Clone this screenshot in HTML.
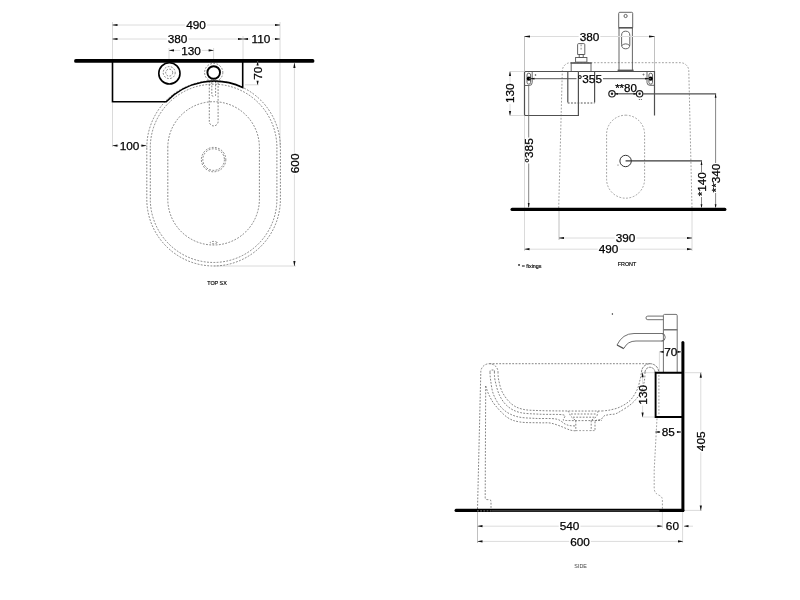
<!DOCTYPE html>
<html lang="en">
<head>
<meta charset="utf-8">
<title>Technical drawing</title>
<style>
html,body{margin:0;padding:0;background:#fff;}
body{width:800px;height:600px;overflow:hidden;}
svg{display:block;will-change:transform;}
text{font-family:"Liberation Sans",sans-serif;fill:#000;}
.n{font-size:11.8px;stroke:#000;stroke-width:0.25px;}
.s{font-size:5.4px;fill:#000;stroke:#000;stroke-width:0.15px;}
.s2{fill:#444;stroke:none;}
.k{fill:none;stroke:#000;stroke-width:1.6;}
.k2{fill:none;stroke:#000;stroke-width:1.2;}
.g{fill:none;stroke:#505050;stroke-width:1.2;}
.t{fill:none;stroke:#000;stroke-width:3.3;stroke-linecap:round;}
.d{fill:none;stroke:#505050;stroke-width:0.7;stroke-dasharray:1.8 1.45;}
.dl{fill:none;stroke:#888;stroke-width:0.8;stroke-dasharray:1.8 1.6;}
.f{fill:none;stroke:#696969;stroke-width:0.95;}
.dim{fill:none;stroke:#dcdcdc;stroke-width:1;}
.ext{fill:none;stroke:#d0d0d0;stroke-width:0.8;}
.ar{fill:#111;stroke:none;}
.g2{fill:none;stroke:#555;stroke-width:0.9;}
.g4{fill:none;stroke:#555;stroke-width:1;}
.g3{fill:none;stroke:#666;stroke-width:0.8;}
.ext2{fill:none;stroke:#b0b0b0;stroke-width:0.8;}
</style>
</head>
<body>
<svg width="800" height="600" viewBox="0 0 800 600">
<rect width="800" height="600" fill="#fff"/>
<g id="top-view">
<line class="ext" x1="112.5" y1="22" x2="112.5" y2="59"/>
<line class="ext" x1="280" y1="22" x2="280" y2="147"/>
<line class="ext" x1="243" y1="36" x2="243" y2="59"/>
<line class="ext" x1="169" y1="48" x2="169" y2="59"/>
<line class="ext" x1="213.6" y1="48" x2="213.6" y2="59"/>
<line class="ext" x1="112.5" y1="103" x2="112.5" y2="147"/>
<line class="ext" x1="245" y1="84.8" x2="259" y2="84.8"/>
<line class="ext" x1="213.6" y1="266" x2="296" y2="266"/>
<path class="d" d="M146.8,147.5 A66.8,66.8 0 0 1 280.4,147.5 V199.2 A66.8,66.8 0 0 1 146.8,199.2 Z"/>
<path class="d" d="M150.3,147.5 A63.3,63.3 0 0 1 276.9,147.5 V199.2 A63.3,63.3 0 0 1 150.3,199.2 Z"/>
<path class="d" d="M167.8,147.5 A45.8,45.8 0 0 1 259.4,147.5 V199.2 A45.8,45.8 0 0 1 167.8,199.2 Z"/>
<path class="d" d="M209.3,81 V121.5 A4.4,4.4 0 0 0 218.1,121.5 V81"/>
<path class="d" d="M211.8,79 V95 Q211.8,96.3 213.7,96.3 Q215.6,96.3 215.6,95 V79"/>
<circle class="d" cx="213.6" cy="159.6" r="12.2"/>
<circle class="d" cx="213.6" cy="159.6" r="10.8"/>
<ellipse class="d" cx="213.6" cy="242.6" rx="3.4" ry="1.2"/>
<path class="k" d="M112.5,61 V101.8 H166.2 A66.8,66.8 0 0 1 242.7,87.4 V61"/>
<circle class="k" cx="169.4" cy="73.4" r="10.6"/>
<circle class="d" cx="169.2" cy="72.6" r="6"/>
<circle class="d" cx="169.2" cy="72.6" r="3.5"/>
<circle class="d" cx="213.7" cy="72.5" r="9.1"/>
<circle class="k" cx="213.7" cy="72.5" r="6.3" style="stroke-width:1.9"/>
<line x1="75.9" y1="60.95" x2="312.6" y2="60.95" fill="none" stroke="#000" stroke-width="3.7" stroke-linecap="round"/>
<line class="dim" x1="112.5" y1="25" x2="185.159" y2="25"/>
<line class="dim" x1="206.841" y1="25" x2="280" y2="25"/>
<polygon class="ar" points="112.5,24.85 117.5,23.9 117.5,26.1 112.5,25.15"/>
<polygon class="ar" points="280,24.85 275,23.9 275,26.1 280,25.15"/>
<text class="n" x="196" y="25" text-anchor="middle" dy="0.358em">490</text>
<line class="dim" x1="112.5" y1="39" x2="166.759" y2="39"/>
<line class="dim" x1="188.441" y1="39" x2="243" y2="39"/>
<polygon class="ar" points="112.5,38.85 117.5,37.9 117.5,40.1 112.5,39.15"/>
<polygon class="ar" points="243,38.85 238,37.9 238,40.1 243,39.15"/>
<text class="n" x="177.6" y="39" text-anchor="middle" dy="0.358em">380</text>
<line class="dim" x1="243" y1="39" x2="250.159" y2="39"/>
<line class="dim" x1="271.841" y1="39" x2="280" y2="39"/>
<polygon class="ar" points="243,38.85 248,37.9 248,40.1 243,39.15"/>
<polygon class="ar" points="280,38.85 275,37.9 275,40.1 280,39.15"/>
<text class="n" x="261" y="39" text-anchor="middle" dy="0.358em">110</text>
<line class="dim" x1="169" y1="50.4" x2="180.159" y2="50.4"/>
<line class="dim" x1="201.841" y1="50.4" x2="213.6" y2="50.4"/>
<polygon class="ar" points="169,50.25 174,49.3 174,51.5 169,50.55"/>
<polygon class="ar" points="213.6,50.25 208.6,49.3 208.6,51.5 213.6,50.55"/>
<text class="n" x="191" y="50.4" text-anchor="middle" dy="0.358em">130</text>
<line class="dim" x1="112.5" y1="145.6" x2="118.659" y2="145.6"/>
<line class="dim" x1="140.341" y1="145.6" x2="146.4" y2="145.6"/>
<polygon class="ar" points="112.5,145.45 117.5,144.5 117.5,146.7 112.5,145.75"/>
<polygon class="ar" points="146.4,145.45 141.4,144.5 141.4,146.7 146.4,145.75"/>
<text class="n" x="129.5" y="145.6" text-anchor="middle" dy="0.358em">100</text>
<line class="dim" x1="257.6" y1="61.5" x2="257.6" y2="65.7392"/>
<line class="dim" x1="257.6" y1="80.8608" x2="257.6" y2="84.8"/>
<polygon class="ar" points="257.45,61.5 256.5,65.5 258.7,65.5 257.75,61.5"/>
<polygon class="ar" points="257.45,84.8 256.5,80.8 258.7,80.8 257.75,84.8"/>
<text class="n" transform="translate(258.5,73.3) rotate(-90)" text-anchor="middle" dy="0.3em">70</text>
<line class="dim" x1="294.4" y1="63" x2="294.4" y2="152.559"/>
<line class="dim" x1="294.4" y1="174.241" x2="294.4" y2="266"/>
<polygon class="ar" points="294.25,63 293.3,68 295.5,68 294.55,63"/>
<polygon class="ar" points="294.25,266 293.3,261 295.5,261 294.55,266"/>
<text class="n" transform="translate(295,163.4) rotate(-90)" text-anchor="middle" dy="0.3em">600</text>
<text class="s" x="217" y="283.4" text-anchor="middle" dy="0.358em">TOP SX</text>
</g>
<g id="front-view">
<line class="ext2" x1="524.5" y1="36" x2="524.5" y2="71"/>
<line class="ext2" x1="654.5" y1="36" x2="654.5" y2="71"/>
<line class="ext" x1="510" y1="71.5" x2="524" y2="71.5"/>
<line class="ext" x1="510" y1="115.5" x2="524" y2="115.5"/>
<line class="ext" x1="524.5" y1="116" x2="524.5" y2="251"/>
<line class="ext2" x1="559" y1="211" x2="559" y2="240"/>
<line class="ext" x1="692" y1="211" x2="692" y2="251"/>
<path class="dl" d="M558.7,208 L562.3,71 A8.3,8.3 0 0 1 570.6,62.7 H680.5 A8.3,8.3 0 0 1 688.8,71 L692,208"/>
<rect class="dl" x="606.6" y="115.2" width="38" height="83" rx="19" ry="19"/>
<path class="g" d="M578.4,71.5 H525.5 Q524.5,71.5 524.5,72.5 V114.5 Q524.5,115.5 525.5,115.5 H578.4 V71.5"/>
<path class="g" d="M578.4,71.5 H654.5 V115.5"/>
<path class="g2" d="M532.2,71.5 V82.5 Q532.2,85.5 529.2,85.5 H524.5"/>
<rect class="g2" x="527" y="73.2" width="3.6" height="11" rx="1.8"/>
<path class="g2" d="M647,71.5 V82.5 Q647,85.3 650,85.3 H654.5"/>
<rect class="g2" x="648.9" y="73.2" width="3.6" height="11" rx="1.8"/>
<circle cx="528.8" cy="78.7" r="2.1" fill="#000"/>
<circle cx="650.7" cy="78.7" r="2.1" fill="#000"/>
<circle class="g2" cx="535.5" cy="75" r="0.5"/>
<circle class="g2" cx="643.5" cy="74.6" r="0.5"/>
<line class="g4" x1="529" y1="78.7" x2="576.5" y2="78.7"/>
<line class="g4" x1="603" y1="78.7" x2="651" y2="78.7"/>
<polygon class="ar" points="530.5,78.55 534.5,77.8 534.5,79.6 530.5,78.85"/>
<polygon class="ar" points="649,78.55 645,77.8 645,79.6 649,78.85"/>
<path class="g2" d="M577.6,54.5 V44.6 Q577.6,43.6 578.6,43.6 H583.8 Q584.8,43.6 584.8,44.6 V54.5 Z"/>
<line class="d" x1="581.1" y1="44.5" x2="581.1" y2="49.6"/>
<rect class="g2" x="579.2" y="54.5" width="4" height="3"/>
<rect class="g2" x="575.6" y="57.5" width="11.3" height="4.6"/>
<rect x="570.6" y="62.2" width="21" height="1.6" fill="#555"/>
<path class="g2" d="M571.2,63 V71.5 M591,63 V71.5"/>
<path class="g" d="M567.8,71.5 V102.6 M594.6,71.5 V102.6"/>
<line class="d" x1="567.8" y1="103" x2="594.6" y2="103" style="stroke-width:1"/>
<path class="g2" d="M618.7,27.6 V13.4 Q618.7,12.3 619.8,12.3 H631.6 Q632.7,12.3 632.7,13.4 V27.6"/>
<rect x="618.5" y="27" width="14.4" height="1.6" fill="#555"/>
<path class="g2" d="M619,28 V70 M632.4,28 V70"/>
<circle class="g2" cx="625.6" cy="16" r="1.6"/>
<rect class="g2" x="621.6" y="31.2" width="8.2" height="17.6" rx="4.1"/>
<path class="g2" d="M621.7,45.5 Q625.7,42.2 629.7,45.5"/>
<rect x="617.6" y="69.6" width="16" height="1.8" fill="#555"/>
<line class="g" x1="612" y1="93.8" x2="639.5" y2="93.8"/>
<circle cx="612" cy="93.8" r="3.2" fill="#fff" stroke="#222" stroke-width="1.2"/>
<circle cx="639.6" cy="93.8" r="3.2" fill="#fff" stroke="#222" stroke-width="1.2"/>
<circle cx="612" cy="93.8" r="1.2" fill="#222"/>
<circle cx="639.6" cy="93.8" r="1.2" fill="#222"/>
<polygon class="ar" points="614.5,93.65 618,92.9 618,94.7 614.5,93.95"/>
<polygon class="ar" points="637,93.65 633.5,92.9 633.5,94.7 637,93.95"/>
<circle cx="639.3" cy="99.6" r="0.5" fill="#333"/><circle cx="641.3" cy="99.6" r="0.5" fill="#333"/>
<path class="g" d="M643,93.8 H716.1"/>
<path d="M625.6,160.9 H702" fill="none" stroke="#3a3a3a" stroke-width="1.2"/>
<circle cx="625.6" cy="161" r="5.7" fill="none" stroke="#333" stroke-width="1"/>
<circle cx="618" cy="165" r="0.5" fill="#333"/>
<line class="g3" x1="528.7" y1="85.5" x2="528.7" y2="137.5"/>
<line class="g3" x1="528.7" y1="163.5" x2="528.7" y2="207"/>
<polygon class="ar" points="528.55,207.6 527.8,203.1 529.6,203.1 528.85,207.6"/>
<text class="n" transform="translate(529.4,150.5) rotate(-90)" text-anchor="middle" dy="0.3em">°385</text>
<line class="g3" x1="701.5" y1="161" x2="701.5" y2="172"/>
<line class="g3" x1="701.5" y1="197" x2="701.5" y2="207"/>
<polygon class="ar" points="701.35,161.5 700.6,165 702.4,165 701.65,161.5"/>
<polygon class="ar" points="701.35,207.8 700.6,204.3 702.4,204.3 701.65,207.8"/>
<text class="n" transform="translate(702.1,184.2) rotate(-90)" text-anchor="middle" dy="0.3em">*140</text>
<line class="g3" x1="715.6" y1="93.8" x2="715.6" y2="163"/>
<line class="g3" x1="715.6" y1="193" x2="715.6" y2="207"/>
<polygon class="ar" points="715.45,94.3 714.7,97.8 716.5,97.8 715.75,94.3"/>
<polygon class="ar" points="715.45,207.8 714.7,204.3 716.5,204.3 715.75,207.8"/>
<text class="n" transform="translate(716.4,178) rotate(-90)" text-anchor="middle" dy="0.3em">**340</text>
<line class="t" x1="512.1" y1="209.4" x2="724.8" y2="209.4"/>
<line class="dim" x1="524.5" y1="36.5" x2="578.659" y2="36.5"/>
<line class="dim" x1="600.341" y1="36.5" x2="654.5" y2="36.5"/>
<polygon class="ar" points="524.5,36.35 530,35.4 530,37.6 524.5,36.65"/>
<polygon class="ar" points="654.5,36.35 649,35.4 649,37.6 654.5,36.65"/>
<text class="n" x="589.5" y="36.5" text-anchor="middle" dy="0.358em">380</text>
<line class="dim" x1="510" y1="71.5" x2="510" y2="82.3588"/>
<line class="dim" x1="510" y1="104.041" x2="510" y2="115.5"/>
<polygon class="ar" points="509.85,71.5 508.9,76 511.1,76 510.15,71.5"/>
<polygon class="ar" points="509.85,115.5 508.9,111 511.1,111 510.15,115.5"/>
<text class="n" transform="translate(510.9,93.2) rotate(-90)" text-anchor="middle" dy="0.3em">130</text>
<text class="n" x="589.8" y="78.4" text-anchor="middle" dy="0.358em">°355</text>
<text class="n" style="font-size:11.5px" x="626" y="88" text-anchor="middle" dy="0.358em">**80</text>
<line class="dim" x1="559" y1="238" x2="614.759" y2="238"/>
<line class="dim" x1="636.441" y1="238" x2="692" y2="238"/>
<polygon class="ar" points="559,237.85 564,236.9 564,239.1 559,238.15"/>
<polygon class="ar" points="692,237.85 687,236.9 687,239.1 692,238.15"/>
<text class="n" x="625.6" y="238" text-anchor="middle" dy="0.358em">390</text>
<line class="dim" x1="524.5" y1="249.2" x2="597.759" y2="249.2"/>
<line class="dim" x1="619.441" y1="249.2" x2="692" y2="249.2"/>
<polygon class="ar" points="524.5,249.05 529.5,248.1 529.5,250.3 524.5,249.35"/>
<polygon class="ar" points="692,249.05 687,248.1 687,250.3 692,249.35"/>
<text class="n" x="608.6" y="249.2" text-anchor="middle" dy="0.358em">490</text>
<text class="s" x="627" y="263.8" text-anchor="middle" dy="0.358em">FRONT</text>
<text class="s" x="529.8" y="266" text-anchor="middle" dy="0.358em">* = fixings</text>
</g>
<g id="side-view">
<line class="ext2" x1="477.5" y1="512" x2="477.5" y2="543"/>
<line class="ext" x1="662.4" y1="512" x2="662.4" y2="528"/>
<line class="ext" x1="682.6" y1="512" x2="682.6" y2="543"/>
<line class="ext" x1="685" y1="372.7" x2="702" y2="372.7"/>
<line class="ext" x1="685" y1="510.4" x2="702" y2="510.4"/>
<line class="ext" x1="642" y1="372.7" x2="655" y2="372.7"/>
<line class="ext" x1="642" y1="417" x2="655" y2="417"/>
<line class="ext" x1="659.4" y1="352" x2="659.4" y2="372"/>
<path class="d" d="M477.5,509 L480.8,372 A8.6,8.3 0 0 1 498,372"/>
<path class="d" d="M489.5,363.7 H650"/>
<path d="M641.5,372.3 A8.6,8.6 0 0 1 658.7,372.3" fill="none" stroke="#666" stroke-width="0.8" stroke-dasharray="2.6 0.7"/>
<path d="M645,372.3 A5,5 0 0 1 655,372.3" fill="none" stroke="#666" stroke-width="0.8" stroke-dasharray="2.6 0.7"/>
<path class="d" d="M485.7,386 L485.2,497.6 Q485.2,499.6 487.2,499.6 H489 Q491,499.6 491,501.6 V509"/>
<path class="d" d="M490,372.5 V371.5 Q490,370 491.5,370 H494.4 V372.5"/>
<path class="d" d="M498.0,372.0 C498.1,373.3 497.9,376.6 498.7,380.0 C499.4,383.4 500.4,388.6 502.5,392.5 C504.6,396.4 507.9,400.9 511.2,403.7 C514.5,406.5 517.7,408.0 522.5,409.2 C527.3,410.4 532.4,410.3 540.0,410.6 C547.6,410.9 557.7,410.9 568.0,411.0 C578.3,411.1 596.3,411.0 602.0,411.0"/>
<path class="d" d="M494.4,372.0 C494.5,373.3 494.2,376.2 495.0,380.0 C495.8,383.8 497.3,390.6 499.4,395.0 C501.5,399.4 504.1,403.3 507.5,406.2 C510.9,409.1 514.6,411.2 520.0,412.5 C525.4,413.8 532.8,413.8 540.0,414.2 C547.2,414.6 559.0,414.1 563.0,414.8 C567.0,415.5 563.6,417.6 564.2,418.5 C564.8,419.4 560.2,420.2 566.5,420.5 C572.8,420.8 596.1,420.5 602.0,420.5"/>
<path class="d" d="M490.0,372.5 C490.1,373.8 490.0,376.2 490.6,380.0 C491.2,383.8 491.7,390.2 493.7,395.0 C495.7,399.8 498.8,405.1 502.5,408.7 C506.2,412.3 510.8,414.8 516.2,416.4 C521.6,418.0 528.4,418.0 535.0,418.4 C541.6,418.8 551.0,418.1 556.0,419.0 C561.0,419.9 562.7,422.9 565.0,424.0 C567.3,425.1 568.2,425.3 570.0,425.6 C571.8,425.9 574.8,425.9 575.8,426.0"/>
<path class="d" d="M485.7,386.0 C486.2,387.5 487.4,391.8 489.0,395.0 C490.6,398.2 491.9,401.2 495.0,405.0 C498.1,408.8 503.3,414.7 507.5,417.5 C511.7,420.3 514.6,421.1 520.0,422.0 C525.4,422.9 535.0,422.6 540.0,422.8 C545.0,423.0 546.7,422.5 550.0,423.0 C553.3,423.5 556.7,424.8 560.0,426.0 C563.3,427.2 567.4,429.2 570.0,430.0 C572.6,430.8 574.8,430.7 575.8,430.8"/>
<path class="d" d="M571,414 H596.5 M573,417.2 H594.5"/>
<path class="d" d="M568.0,411.0 C568.2,411.4 569.0,412.6 569.5,413.5 C570.0,414.4 570.0,415.4 571.0,416.5 C572.0,417.6 574.8,419.8 575.6,420.4"/>
<path class="d" d="M598.0,411.0 C597.9,411.4 597.8,412.6 597.5,413.5 C597.2,414.4 597.5,415.4 596.5,416.5 C595.5,417.6 592.1,419.8 591.2,420.4"/>
<path class="d" d="M575.8,420.5 V430.8 M591.2,420.5 V430.8 M595,421.5 V430.8"/>
<path class="dl" d="M575.8,430.6 H595"/>
<path class="d" d="M602.0,411.0 C603.3,410.8 607.0,410.7 610.0,410.0 C613.0,409.3 616.7,408.6 620.0,407.0 C623.3,405.4 627.2,403.3 630.0,400.5 C632.8,397.7 635.3,393.4 637.0,390.0 C638.7,386.6 639.2,382.9 640.0,380.0 C640.8,377.1 641.2,373.6 641.5,372.3"/>
<path class="d" d="M595.5,421.0 C595.8,420.8 596.1,420.2 597.0,420.0 C597.9,419.8 600.0,420.0 601.0,419.5 C602.0,419.0 602.3,417.7 603.0,417.0 C603.7,416.3 603.8,415.9 605.0,415.5 C606.2,415.1 608.3,414.8 610.0,414.5 C611.7,414.2 613.3,414.5 615.0,414.0 C616.7,413.5 617.5,413.0 620.0,411.5 C622.5,410.0 627.2,407.2 630.0,405.0 C632.8,402.8 635.0,400.5 637.0,398.0 C639.0,395.5 640.8,393.0 642.0,390.0 C643.2,387.0 644.0,382.9 644.5,380.0 C645.0,377.1 644.9,373.6 645.0,372.3"/>
<line class="dl" x1="658.9" y1="375" x2="658.9" y2="415"/>
<path class="dl" d="M657,418.5 L654.2,470 V488 Q654.2,493 658.5,495 Q662.4,496.5 662.4,500 V510"/>
<path class="f" d="M663.4,372 V315.6 Q663.4,314.4 664.6,314.4 H676 Q677.2,314.4 677.2,315.6 V372"/>
<rect x="663.2" y="329" width="14.2" height="1.5" fill="#777"/>
<path class="f" d="M663.4,316.1 H647.8 A1.8,1.8 0 0 0 647.8,319.7 H663.4"/>
<path class="f" d="M663.4,333.5 H634 Q622.5,333.5 617,345 M663.4,341 H636 Q627.5,341 624,348.3 M661.5,333.5 A3.75,3.75 0 0 1 661.5,341"/>
<path class="g" d="M617,345 L623.8,348.6"/>
<circle cx="612.4" cy="314" r="0.7" fill="#222"/>
<path class="k" d="M682,372.7 H655.6 V417 H682" style="stroke-width:1.9"/>
<path d="M682.9,342.5 V510.4" fill="none" stroke="#000" stroke-width="3" stroke-linecap="round"/>
<path d="M456.2,510.4 H682.7" fill="none" stroke="#000" stroke-width="3.4" stroke-linecap="round"/>
<path d="M477,510.9 H492" fill="none" stroke="#fff" stroke-width="0.6" stroke-dasharray="1.8 1.4" opacity="0.8"/>
<path d="M492,510.9 H659.4" fill="none" stroke="#fff" stroke-width="0.5" opacity="0.75"/>
<line class="dim" x1="659.6" y1="351.8" x2="663.239" y2="351.8"/>
<line class="dim" x1="678.361" y1="351.8" x2="681.5" y2="351.8"/>
<polygon class="ar" points="659.6,351.65 663.6,350.7 663.6,352.9 659.6,351.95"/>
<polygon class="ar" points="681.5,351.65 677.5,350.7 677.5,352.9 681.5,351.95"/>
<text class="n" x="670.8" y="351.8" text-anchor="middle" dy="0.358em">70</text>
<line class="dim" x1="642.6" y1="372.7" x2="642.6" y2="383.959"/>
<line class="dim" x1="642.6" y1="405.641" x2="642.6" y2="417"/>
<polygon class="ar" points="642.45,372.7 641.5,377.2 643.7,377.2 642.75,372.7"/>
<polygon class="ar" points="642.45,417 641.5,412.5 643.7,412.5 642.75,417"/>
<text class="n" transform="translate(643.2,394.8) rotate(-90)" text-anchor="middle" dy="0.3em">130</text>
<line class="dim" x1="655.2" y1="432" x2="660.739" y2="432"/>
<line class="dim" x1="675.861" y1="432" x2="681.5" y2="432"/>
<polygon class="ar" points="655.2,431.85 659.7,430.9 659.7,433.1 655.2,432.15"/>
<polygon class="ar" points="681.5,431.85 677,430.9 677,433.1 681.5,432.15"/>
<text class="n" x="668.3" y="432" text-anchor="middle" dy="0.358em">85</text>
<line class="dim" x1="700.8" y1="372.7" x2="700.8" y2="430.459"/>
<line class="dim" x1="700.8" y1="452.141" x2="700.8" y2="510.4"/>
<polygon class="ar" points="700.65,372.7 699.7,377.7 701.9,377.7 700.95,372.7"/>
<polygon class="ar" points="700.65,510.4 699.7,505.4 701.9,505.4 700.95,510.4"/>
<text class="n" transform="translate(701.4,441.3) rotate(-90)" text-anchor="middle" dy="0.3em">405</text>
<line class="dim" x1="477.5" y1="526.2" x2="558.759" y2="526.2"/>
<line class="dim" x1="580.441" y1="526.2" x2="662.4" y2="526.2"/>
<polygon class="ar" points="477.5,526.05 482.5,525.1 482.5,527.3 477.5,526.35"/>
<polygon class="ar" points="662.4,526.05 657.4,525.1 657.4,527.3 662.4,526.35"/>
<text class="n" x="569.6" y="526.2" text-anchor="middle" dy="0.358em">540</text>
<line class="dim" x1="684" y1="526.2" x2="693" y2="526.2"/>
<polygon class="ar" points="684,526.05 688.5,525.1 688.5,527.3 684,526.35"/>
<text class="n" x="672.4" y="526.2" text-anchor="middle" dy="0.358em">60</text>
<line class="dim" x1="477.5" y1="541.4" x2="569.159" y2="541.4"/>
<line class="dim" x1="590.841" y1="541.4" x2="683" y2="541.4"/>
<polygon class="ar" points="477.5,541.25 482.5,540.3 482.5,542.5 477.5,541.55"/>
<polygon class="ar" points="683,541.25 678,540.3 678,542.5 683,541.55"/>
<text class="n" x="580" y="541.4" text-anchor="middle" dy="0.358em">600</text>
<text class="s s2" x="580.6" y="566" text-anchor="middle" dy="0.358em">SIDE</text>
</g>
</svg>
</body>
</html>
